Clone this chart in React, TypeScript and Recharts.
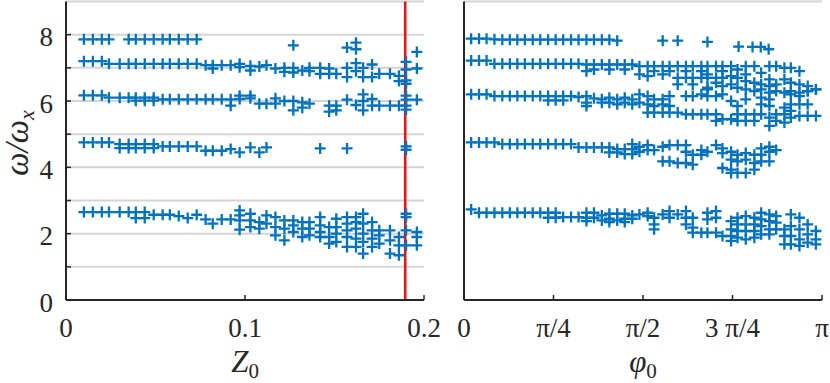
import React from 'react';
import { ScatterChart, Scatter, XAxis, YAxis, CartesianGrid, ReferenceLine } from 'recharts';

const BLUE = '#0072bd';
const INK = '#262626';
const SERIF = "'Times New Roman', Tinos, 'Liberation Serif', 'DejaVu Serif', serif";

const zTicks = [0, 0.1, 0.2];
const phiTicks = [0, 0.25, 0.5, 0.75, 1]; // in units of pi
const phiTickLabels = ['0', 'π/4', 'π/2', '3 π/4', 'π'];
const wTicks = [0, 1, 2, 3, 4, 5, 6, 7, 8];
const criticalZ = 0.1895;

// left panel: omega/omega_x against Z0, one list per branch
const leftMode1 = [
  [0.010, 2.65], [0.015, 2.65], [0.020, 2.65], [0.024, 2.65], [0.030, 2.65], [0.035, 2.65],
  [0.039, 2.65], [0.039, 2.47], [0.044, 2.65], [0.044, 2.47], [0.049, 2.57], [0.054, 2.57],
  [0.058, 2.57], [0.063, 2.53], [0.068, 2.47], [0.073, 2.57], [0.078, 2.43], [0.082, 2.3],
  [0.087, 2.43], [0.092, 2.43], [0.097, 2.7], [0.097, 2.55], [0.097, 2.4], [0.097, 2.12],
  [0.103, 2.6], [0.103, 2.4], [0.103, 2.2], [0.108, 2.35], [0.108, 2.15], [0.112, 2.55],
  [0.112, 2.3], [0.117, 2.5], [0.117, 2.2], [0.117, 1.95], [0.122, 2.4], [0.122, 2.15],
  [0.122, 1.8], [0.127, 2.4], [0.127, 2.25], [0.127, 2.05], [0.132, 2.35], [0.132, 2.15],
  [0.132, 1.9], [0.136, 2.35], [0.136, 2.15], [0.136, 1.95], [0.142, 2.5], [0.142, 2.25],
  [0.142, 2.05], [0.142, 1.9], [0.147, 2.2], [0.147, 1.9], [0.147, 1.7], [0.151, 2.45],
  [0.151, 2.2], [0.151, 2.0], [0.151, 1.75], [0.157, 2.5], [0.157, 2.3], [0.157, 2.1],
  [0.157, 1.9], [0.157, 1.6], [0.162, 2.5], [0.162, 2.35], [0.162, 2.15], [0.162, 1.85],
  [0.162, 1.6], [0.166, 2.6], [0.166, 2.3], [0.166, 2.0], [0.166, 1.75], [0.166, 1.4],
  [0.171, 2.35], [0.171, 2.1], [0.171, 1.85], [0.171, 1.6], [0.175, 2.1], [0.175, 1.95],
  [0.175, 1.7], [0.181, 2.1], [0.181, 1.8], [0.181, 1.4], [0.186, 1.9], [0.186, 1.65],
  [0.186, 1.35], [0.190, 2.6], [0.190, 2.5], [0.190, 2.1], [0.190, 1.65], [0.196, 2.05],
  [0.196, 1.9], [0.196, 1.65],
];
const leftMode2 = [
  [0.010, 4.75], [0.015, 4.75], [0.020, 4.75], [0.024, 4.75], [0.030, 4.7], [0.030, 4.58],
  [0.035, 4.7], [0.035, 4.58], [0.039, 4.7], [0.039, 4.58], [0.044, 4.7], [0.044, 4.58],
  [0.049, 4.7], [0.049, 4.58], [0.054, 4.63], [0.058, 4.63], [0.063, 4.63], [0.068, 4.63],
  [0.073, 4.63], [0.078, 4.5], [0.082, 4.5], [0.087, 4.5], [0.092, 4.55], [0.097, 4.45],
  [0.103, 4.6], [0.108, 4.45], [0.112, 4.6], [0.142, 4.57], [0.157, 4.57], [0.190, 4.63],
  [0.190, 4.53],
];
const leftMode3 = [
  [0.010, 6.17], [0.015, 6.17], [0.020, 6.17], [0.024, 6.1], [0.030, 6.1], [0.035, 6.1],
  [0.039, 6.1], [0.039, 6.01], [0.044, 6.1], [0.044, 6.01], [0.049, 6.1], [0.049, 6.01],
  [0.054, 6.05], [0.058, 6.05], [0.063, 6.05], [0.068, 6.05], [0.073, 6.05], [0.078, 6.05],
  [0.082, 6.05], [0.087, 6.05], [0.092, 6.05], [0.092, 5.86], [0.097, 6.16], [0.097, 6.06],
  [0.103, 6.16], [0.103, 6.08], [0.108, 5.92], [0.112, 5.92], [0.117, 6.08], [0.117, 5.92],
  [0.122, 6.0], [0.127, 6.0], [0.127, 5.72], [0.132, 5.96], [0.132, 5.8], [0.136, 5.92],
  [0.147, 5.86], [0.147, 5.68], [0.151, 5.86], [0.151, 5.72], [0.157, 6.04], [0.162, 5.88],
  [0.166, 6.2], [0.166, 6.0], [0.166, 5.72], [0.171, 6.06], [0.171, 5.86], [0.175, 5.86],
  [0.181, 5.86], [0.186, 5.86], [0.190, 6.16], [0.190, 6.04], [0.190, 5.86], [0.190, 5.74],
  [0.196, 6.04],
];
const leftMode4 = [
  [0.010, 7.2], [0.015, 7.2], [0.020, 7.2], [0.024, 7.12], [0.030, 7.12], [0.035, 7.12],
  [0.039, 7.12], [0.044, 7.12], [0.049, 7.12], [0.054, 7.12], [0.058, 7.12], [0.063, 7.12],
  [0.068, 7.12], [0.073, 7.12], [0.078, 7.08], [0.082, 7.08], [0.082, 6.98], [0.087, 7.08],
  [0.092, 7.08], [0.097, 7.12], [0.097, 7.02], [0.103, 7.06], [0.103, 6.92], [0.108, 7.04],
  [0.112, 7.08], [0.117, 6.98], [0.122, 7.0], [0.122, 6.88], [0.127, 7.0], [0.127, 6.86],
  [0.132, 6.92], [0.136, 7.0], [0.136, 6.9], [0.142, 7.0], [0.142, 6.82], [0.147, 6.98],
  [0.147, 6.82], [0.151, 6.82], [0.157, 7.0], [0.157, 6.72], [0.162, 7.14], [0.162, 6.9],
  [0.166, 7.0], [0.166, 6.72], [0.171, 7.1], [0.171, 6.72], [0.175, 6.82], [0.181, 6.82],
  [0.186, 6.76], [0.186, 6.6], [0.190, 7.18], [0.190, 6.95], [0.190, 6.62], [0.190, 6.52],
  [0.196, 6.98],
];
const leftMode5 = [
  [0.010, 7.86], [0.015, 7.86], [0.020, 7.86], [0.024, 7.86], [0.035, 7.86], [0.039, 7.86],
  [0.044, 7.86], [0.049, 7.86], [0.054, 7.86], [0.058, 7.86], [0.063, 7.86], [0.068, 7.86],
  [0.073, 7.86], [0.127, 7.68], [0.157, 7.61], [0.162, 7.76], [0.162, 7.56], [0.196, 7.48],
];

// right panel: omega/omega_x against phi0 (phi0 in units of pi)
const rightMode1 = [
  [0.020, 2.73], [0.042, 2.63], [0.063, 2.63], [0.085, 2.63], [0.107, 2.63], [0.128, 2.63],
  [0.149, 2.63], [0.170, 2.63], [0.192, 2.63], [0.213, 2.63], [0.235, 2.63], [0.235, 2.48],
  [0.256, 2.63], [0.256, 2.48], [0.277, 2.5], [0.299, 2.5], [0.320, 2.5], [0.342, 2.63],
  [0.342, 2.48], [0.342, 2.38], [0.363, 2.63], [0.363, 2.48], [0.385, 2.55], [0.385, 2.4],
  [0.406, 2.6], [0.406, 2.45], [0.406, 2.35], [0.428, 2.6], [0.428, 2.4], [0.449, 2.6],
  [0.449, 2.45], [0.449, 2.35], [0.470, 2.55], [0.470, 2.45], [0.490, 2.58], [0.513, 2.63],
  [0.513, 2.53], [0.531, 2.48], [0.531, 2.28], [0.531, 2.13], [0.555, 2.58], [0.574, 2.68],
  [0.574, 2.48], [0.597, 2.58], [0.620, 2.68], [0.620, 2.48], [0.620, 2.28], [0.639, 2.48],
  [0.639, 2.18], [0.639, 2.03], [0.663, 2.03], [0.680, 2.63], [0.680, 2.43], [0.680, 2.03],
  [0.704, 2.68], [0.704, 2.48], [0.704, 2.03], [0.722, 1.93], [0.746, 2.38], [0.746, 2.13],
  [0.746, 1.93], [0.746, 1.78], [0.764, 2.48], [0.764, 2.28], [0.764, 2.08], [0.764, 1.88],
  [0.787, 2.53], [0.787, 2.28], [0.787, 2.08], [0.787, 1.83], [0.811, 2.48], [0.811, 2.28],
  [0.811, 2.08], [0.811, 1.88], [0.830, 2.63], [0.830, 2.43], [0.830, 2.23], [0.830, 1.98],
  [0.853, 2.58], [0.853, 2.38], [0.853, 2.13], [0.853, 1.98], [0.872, 2.53], [0.872, 2.33],
  [0.872, 2.13], [0.895, 2.13], [0.895, 1.93], [0.895, 1.68], [0.913, 2.58], [0.913, 2.23],
  [0.913, 1.93], [0.913, 1.68], [0.937, 2.48], [0.937, 2.13], [0.937, 1.83], [0.937, 1.63],
  [0.960, 2.28], [0.960, 1.98], [0.960, 1.73], [0.983, 2.08], [0.983, 1.83], [0.983, 1.68],
];
const rightMode2 = [
  [0.020, 4.75], [0.042, 4.75], [0.063, 4.75], [0.085, 4.75], [0.107, 4.7], [0.128, 4.7],
  [0.149, 4.7], [0.170, 4.7], [0.192, 4.7], [0.213, 4.7], [0.235, 4.7], [0.256, 4.7],
  [0.277, 4.7], [0.299, 4.7], [0.320, 4.6], [0.342, 4.6], [0.363, 4.6], [0.385, 4.6],
  [0.406, 4.6], [0.406, 4.45], [0.428, 4.55], [0.428, 4.45], [0.449, 4.55], [0.449, 4.4],
  [0.470, 4.7], [0.470, 4.55], [0.470, 4.4], [0.490, 4.62], [0.490, 4.47], [0.513, 4.67],
  [0.513, 4.52], [0.531, 4.52], [0.555, 4.62], [0.555, 4.18], [0.574, 4.67], [0.574, 4.18],
  [0.597, 4.67], [0.597, 4.13], [0.620, 4.67], [0.620, 4.47], [0.620, 4.13], [0.639, 4.38],
  [0.639, 4.08], [0.663, 4.52], [0.663, 4.38], [0.680, 4.47], [0.704, 4.67], [0.722, 4.57],
  [0.722, 4.43], [0.722, 3.98], [0.746, 4.47], [0.746, 4.23], [0.746, 3.93], [0.746, 3.83],
  [0.764, 4.38], [0.764, 4.18], [0.764, 3.83], [0.787, 4.43], [0.787, 4.23], [0.787, 3.83],
  [0.811, 4.38], [0.811, 4.13], [0.811, 3.93], [0.830, 4.57], [0.830, 4.38], [0.830, 4.18],
  [0.853, 4.62], [0.853, 4.47], [0.853, 4.18], [0.872, 4.52],
];
const rightMode3 = [
  [0.020, 6.2], [0.042, 6.2], [0.063, 6.2], [0.085, 6.15], [0.107, 6.15], [0.128, 6.15],
  [0.149, 6.15], [0.170, 6.15], [0.192, 6.15], [0.213, 6.15], [0.235, 6.15], [0.235, 6.02],
  [0.256, 6.15], [0.256, 6.02], [0.277, 6.15], [0.277, 6.02], [0.299, 6.15], [0.320, 6.12],
  [0.342, 6.15], [0.342, 5.95], [0.342, 5.85], [0.363, 6.08], [0.385, 6.05], [0.385, 5.95],
  [0.406, 6.1], [0.406, 5.95], [0.428, 6.05], [0.428, 5.9], [0.449, 6.1], [0.449, 5.95],
  [0.470, 6.05], [0.470, 5.9], [0.490, 6.2], [0.490, 5.95], [0.513, 6.15], [0.513, 5.9],
  [0.513, 5.65], [0.531, 6.05], [0.531, 5.85], [0.531, 5.65], [0.555, 6.05], [0.555, 5.9],
  [0.555, 5.65], [0.574, 6.15], [0.574, 5.85], [0.574, 5.65], [0.597, 5.65], [0.620, 6.15],
  [0.620, 5.6], [0.639, 6.15], [0.639, 5.6], [0.663, 6.2], [0.663, 5.6], [0.680, 6.35],
  [0.680, 6.15], [0.680, 5.6], [0.704, 6.15], [0.704, 5.6], [0.704, 5.4], [0.722, 6.2],
  [0.722, 5.45], [0.746, 6.0], [0.746, 5.45], [0.764, 5.85], [0.764, 5.6], [0.764, 5.4],
  [0.787, 6.05], [0.787, 5.6], [0.787, 5.4], [0.811, 5.6], [0.811, 5.4], [0.830, 6.1],
  [0.830, 5.9], [0.830, 5.6], [0.853, 6.05], [0.853, 5.85], [0.853, 5.5], [0.853, 5.25],
  [0.872, 5.6], [0.872, 5.4], [0.895, 5.8], [0.895, 5.6], [0.895, 5.35], [0.913, 6.2],
  [0.913, 5.9], [0.913, 5.7], [0.913, 5.5], [0.937, 6.15], [0.937, 5.9], [0.937, 5.55],
  [0.960, 6.3], [0.960, 5.9], [0.960, 5.55], [0.983, 6.35], [0.983, 5.55],
];
const rightMode4 = [
  [0.020, 7.22], [0.042, 7.22], [0.063, 7.22], [0.085, 7.12], [0.107, 7.12], [0.128, 7.12],
  [0.149, 7.12], [0.170, 7.12], [0.192, 7.12], [0.213, 7.12], [0.235, 7.12], [0.256, 7.12],
  [0.277, 7.12], [0.299, 7.12], [0.320, 7.12], [0.342, 7.1], [0.342, 6.9], [0.363, 7.1],
  [0.363, 6.95], [0.385, 7.1], [0.406, 7.1], [0.406, 6.95], [0.428, 7.1], [0.449, 7.1],
  [0.449, 6.95], [0.470, 7.1], [0.490, 7.05], [0.490, 6.8], [0.513, 7.05], [0.513, 6.75],
  [0.531, 7.05], [0.531, 6.9], [0.555, 7.05], [0.555, 6.8], [0.574, 7.05], [0.574, 6.9],
  [0.597, 7.05], [0.597, 6.7], [0.597, 6.5], [0.620, 7.05], [0.620, 6.9], [0.620, 6.7],
  [0.639, 7.05], [0.639, 6.7], [0.639, 6.5], [0.663, 7.05], [0.663, 6.9], [0.663, 6.7],
  [0.680, 7.05], [0.680, 6.8], [0.680, 6.7], [0.680, 6.4], [0.704, 7.05], [0.704, 6.7],
  [0.704, 6.55], [0.722, 7.05], [0.722, 6.9], [0.722, 6.7], [0.722, 6.45], [0.746, 7.05],
  [0.746, 6.75], [0.746, 6.5], [0.764, 6.95], [0.764, 6.7], [0.764, 6.4], [0.787, 7.05],
  [0.787, 6.8], [0.787, 6.6], [0.787, 6.35], [0.811, 7.05], [0.811, 6.55], [0.811, 6.3],
  [0.830, 6.85], [0.830, 6.5], [0.830, 6.35], [0.853, 7.05], [0.853, 6.65], [0.853, 6.45],
  [0.853, 6.25], [0.872, 7.05], [0.872, 6.5], [0.872, 6.3], [0.895, 7.0], [0.895, 6.65],
  [0.895, 6.25], [0.913, 7.0], [0.913, 6.55], [0.913, 6.3], [0.937, 6.9], [0.937, 6.5],
  [0.937, 6.25], [0.960, 6.45], [0.960, 6.3], [0.983, 6.35],
];
const rightMode5 = [
  [0.020, 7.88], [0.042, 7.88], [0.063, 7.88], [0.085, 7.86], [0.107, 7.85], [0.128, 7.85],
  [0.149, 7.85], [0.170, 7.85], [0.192, 7.85], [0.213, 7.85], [0.235, 7.85], [0.256, 7.85],
  [0.277, 7.85], [0.299, 7.85], [0.320, 7.85], [0.342, 7.85], [0.363, 7.85], [0.385, 7.85],
  [0.406, 7.85], [0.428, 7.82], [0.555, 7.82], [0.597, 7.82], [0.680, 7.78], [0.767, 7.64],
  [0.806, 7.63], [0.829, 7.63], [0.851, 7.56],
];

const leftModes = [leftMode1, leftMode2, leftMode3, leftMode4, leftMode5];
const rightModes = [rightMode1, rightMode2, rightMode3, rightMode4, rightMode5];

const toPts = (a: number[][]) => a.map(([x, y]) => ({ x, y }));

const Plus = (props: any) => {
  const { cx, cy } = props;
  if (cx == null || cy == null) return null;
  const r = 5.5;
  return (
    <path
      d={`M${cx - r},${cy}H${cx + r}M${cx},${cy - r}V${cy + r}`}
      stroke={BLUE}
      strokeWidth={2.3}
      fill="none"
    />
  );
};

const tickStyle = { fill: INK, fontSize: 27, fontFamily: SERIF };

const XTitle = ({ viewBox, text }: any) => {
  if (!viewBox) return null;
  return (
    <text
      x={viewBox.x + viewBox.width / 2}
      y={viewBox.y + 72}
      textAnchor="middle"
      fill={INK}
      fontFamily={SERIF}
      fontSize={31}
      fontStyle="italic"
    >
      {text}
      <tspan dy={6} fontSize={21} fontStyle="normal">0</tspan>
    </text>
  );
};

const YTitle = () => (
  <text
    transform="translate(28,143) rotate(-90)"
    textAnchor="middle"
    fill={INK}
    fontFamily={SERIF}
    fontSize={33}
    fontStyle="italic"
  >
    ω/ω
    <tspan dy={6} fontSize={22}>x</tspan>
  </text>
);

function Panel({ width, left, yWidth, rightPad, xTicks, xDomain, xFormat, showY, modes, title, children }: any) {
  return (
    <div style={{ position: 'absolute', left, top: 0 }}>
      <ScatterChart width={width} height={383} margin={{ top: 1.5, right: rightPad, bottom: 0, left: 0 }}>
        <CartesianGrid horizontal vertical={false} stroke="#d4d4d4" strokeWidth={2} />
        <XAxis
          dataKey="x"
          type="number"
          domain={xDomain}
          ticks={xTicks}
          interval={0}
          allowDataOverflow
          height={83}
          tickSize={-5}
          tickMargin={23}
          tickFormatter={xFormat}
          tick={tickStyle}
          axisLine={{ stroke: INK, strokeWidth: 2 }}
          tickLine={{ stroke: INK, strokeWidth: 1.5 }}
          label={<XTitle text={title} />}
        />
        <XAxis
          xAxisId="top"
          orientation="top"
          type="number"
          domain={xDomain}
          ticks={xTicks}
          interval={0}
          allowDataOverflow
          height={0}
          tickSize={-5}
          tick={false}
          axisLine={{ stroke: INK, strokeWidth: 2 }}
          tickLine={{ stroke: INK, strokeWidth: 1.5 }}
        />
        <YAxis
          dataKey="y"
          type="number"
          domain={[0, 9]}
          ticks={wTicks}
          interval={0}
          allowDataOverflow
          width={yWidth}
          tickSize={-5}
          tickMargin={18}
          tickFormatter={(v: number) => (v % 2 === 0 ? String(v) : '')}
          tick={showY ? { ...tickStyle, dy: 2 } : false}
          axisLine={{ stroke: INK, strokeWidth: 2 }}
          tickLine={{ stroke: INK, strokeWidth: 1.5 }}
          label={showY ? <YTitle /> : undefined}
        />
        <YAxis
          yAxisId="right"
          orientation="right"
          type="number"
          domain={[0, 9]}
          ticks={wTicks}
          interval={0}
          allowDataOverflow
          width={0}
          tickSize={-5}
          tick={false}
          axisLine={{ stroke: INK, strokeWidth: 2 }}
          tickLine={{ stroke: INK, strokeWidth: 1.5 }}
        />
        {modes.map((m: number[][], i: number) => (
          <Scatter
            key={i}
            data={toPts(m)}
            fill={BLUE}
            shape={(p: any) => <Plus {...p} />}
            isAnimationActive={false}
          />
        ))}
        {children}
      </ScatterChart>
    </div>
  );
}

export default function App() {
  return (
    <div style={{ position: 'absolute', left: 0, top: 0, width: 830, height: 383, background: '#fff' }}>
      <Panel
        width={460}
        left={0}
        yWidth={66}
        rightPad={36}
        xTicks={zTicks}
        xDomain={[0, 0.2]}
        xFormat={(v: number) => String(v)}
        showY
        modes={leftModes}
        title="Z"
      >
        <ReferenceLine x={criticalZ} stroke="#e5141b" strokeWidth={2.6} />
      </Panel>
      <Panel
        width={400}
        left={430}
        yWidth={34}
        rightPad={8}
        xTicks={phiTicks}
        xDomain={[0, 1]}
        xFormat={(v: number) => phiTickLabels[phiTicks.indexOf(v)]}
        showY={false}
        modes={rightModes}
        title="φ"
      />
    </div>
  );
}
